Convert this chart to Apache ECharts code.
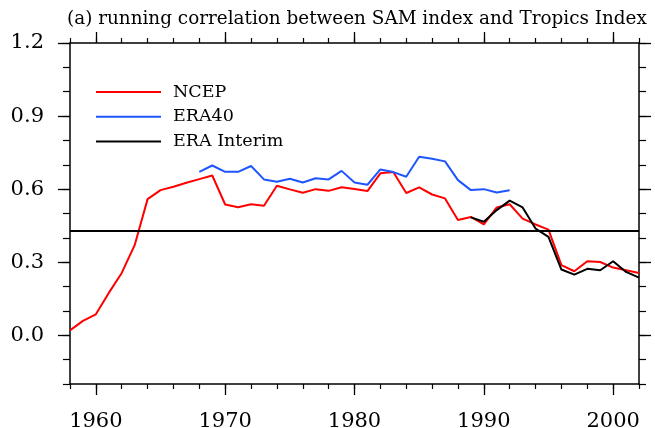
<!DOCTYPE html>
<html>
<head>
<meta charset="utf-8">
<script src="https://cdn.jsdelivr.net/npm/echarts@6/dist/echarts.min.js"></script>
<style>
html,body{margin:0;padding:0;background:#fff;}
#chart{width:655px;height:428px;}
</style>
</head>
<body>
<div id="chart"></div>
<script>
var titleText = '(a) running correlation between SAM index and Tropics Index';
var seriesNames = ['NCEP', 'ERA40', 'ERA Interim'];

var ncepYears = [1958,1959,1960,1961,1962,1963,1964,1965,1966,1967,1968,1969,1970,1971,1972,1973,1974,1975,1976,1977,1978,1979,1980,1981,1982,1983,1984,1985,1986,1987,1988,1989,1990,1991,1992,1993,1994,1995,1996,1997,1998,1999,2000,2001,2002];
var ncepValues = [0.020,0.059,0.086,0.174,0.256,0.370,0.559,0.596,0.610,0.626,0.641,0.656,0.537,0.526,0.538,0.532,0.614,0.599,0.585,0.600,0.593,0.608,0.601,0.592,0.665,0.670,0.584,0.607,0.578,0.562,0.473,0.486,0.455,0.525,0.538,0.479,0.455,0.434,0.288,0.263,0.304,0.301,0.278,0.267,0.256];

var era40Years = [1968,1969,1970,1971,1972,1973,1974,1975,1976,1977,1978,1979,1980,1981,1982,1983,1984,1985,1986,1987,1988,1989,1990,1991,1992];
var era40Values = [0.671,0.697,0.671,0.671,0.695,0.640,0.630,0.643,0.627,0.645,0.640,0.675,0.627,0.618,0.681,0.670,0.651,0.733,0.725,0.714,0.637,0.596,0.600,0.586,0.595];

var eraIntYears = [1989,1990,1991,1992,1993,1994,1995,1996,1997,1998,1999,2000,2001,2002];
var eraIntValues = [0.484,0.466,0.514,0.553,0.525,0.438,0.404,0.270,0.249,0.273,0.267,0.304,0.260,0.237];

var refLevel = 0.43;

var xMajorTicks = [1960,1970,1980,1990,2000];
var yMajorTicks = [0.0,0.3,0.6,0.9,1.2];

function pairs(xs, ys){ return xs.map(function(x,i){ return [x, ys[i]]; }); }

var FONT = 'DejaVu Serif';
var XMIN = 1958, XMAX = 2002, YMIN = -0.2, YMAX = 1.2;

function axLine(show){ return {show:show, onZero:false, lineStyle:{color:'#000', width:1.5}}; }

function xAx(pos, major){
  return {
    type:'value', position:pos, min:XMIN, max:XMAX,
    interval: major ? undefined : 2,
    axisLine: axLine(major),
    axisTick: major ? {show:true, inside:false, length:11, lineStyle:{color:'#000', width:1.3}, customValues:xMajorTicks}
                    : {show:true, inside:false, length:5, lineStyle:{color:'#000', width:1.2}},
    axisLabel: (major && pos==='bottom') ? {show:true, customValues:xMajorTicks, margin:27, color:'#000', fontFamily:FONT, fontSize:21,
                 formatter:function(v){ return String(v); }} : {show:false},
    splitLine:{show:false}
  };
}
function yAx(pos, major){
  return {
    type:'value', position:pos, min:YMIN, max:YMAX,
    interval: major ? undefined : 0.1,
    axisLine: axLine(major),
    axisTick: major ? {show:true, inside:false, length:12, lineStyle:{color:'#000', width:1.3}, customValues:yMajorTicks}
                    : {show:true, inside:false, length:7, lineStyle:{color:'#000', width:1.2}},
    axisLabel: (major && pos==='left') ? {show:true, customValues:yMajorTicks, margin:26, color:'#000', fontFamily:FONT, fontSize:21,
                 formatter:function(v){ return v.toFixed(1); }} : {show:false},
    splitLine:{show:false}
  };
}

var chart = echarts.init(document.getElementById('chart'), null, {renderer:'canvas'});
chart.setOption({
  animation:false,
  backgroundColor:'#fff',
  title:{text:titleText, left:67, top:10, padding:0,
    textStyle:{fontFamily:FONT, fontSize:18.4, fontWeight:'normal', color:'#000', overflow:'none'}},
  legend:{
    data:seriesNames, orient:'vertical', left:91, top:78, icon:'rect',
    itemWidth:65, itemHeight:2, itemGap:6.8,
    textStyle:{fontFamily:FONT, fontSize:17.5, lineHeight:17.5, color:'#000', padding:[0,0,0,7]}
  },
  grid:{left:70, top:43, width:569, height:341, containLabel:false, outerBoundsMode:'none'},
  xAxis:[xAx('bottom',true), xAx('bottom',false), xAx('top',true), xAx('top',false)],
  yAxis:[yAx('left',true), yAx('left',false), yAx('right',true), yAx('right',false)],
  series:[
    {name:seriesNames[0], type:'line', xAxisIndex:0, yAxisIndex:0, data:pairs(ncepYears, ncepValues),
     symbol:'none', lineStyle:{color:'#ff0000', width:2}, itemStyle:{color:'#ff0000'},
     markLine:{silent:true, symbol:'none', label:{show:false}, lineStyle:{color:'#000', width:2, type:'solid'},
       data:[{yAxis:refLevel}]}},
    {name:seriesNames[1], type:'line', xAxisIndex:0, yAxisIndex:0, data:pairs(era40Years, era40Values),
     symbol:'none', lineStyle:{color:'#1f55ff', width:2}, itemStyle:{color:'#1f55ff'}},
    {name:seriesNames[2], type:'line', xAxisIndex:0, yAxisIndex:0, data:pairs(eraIntYears, eraIntValues),
     symbol:'none', lineStyle:{color:'#000', width:2}, itemStyle:{color:'#000'}}
  ]
});
</script>
</body>
</html>
